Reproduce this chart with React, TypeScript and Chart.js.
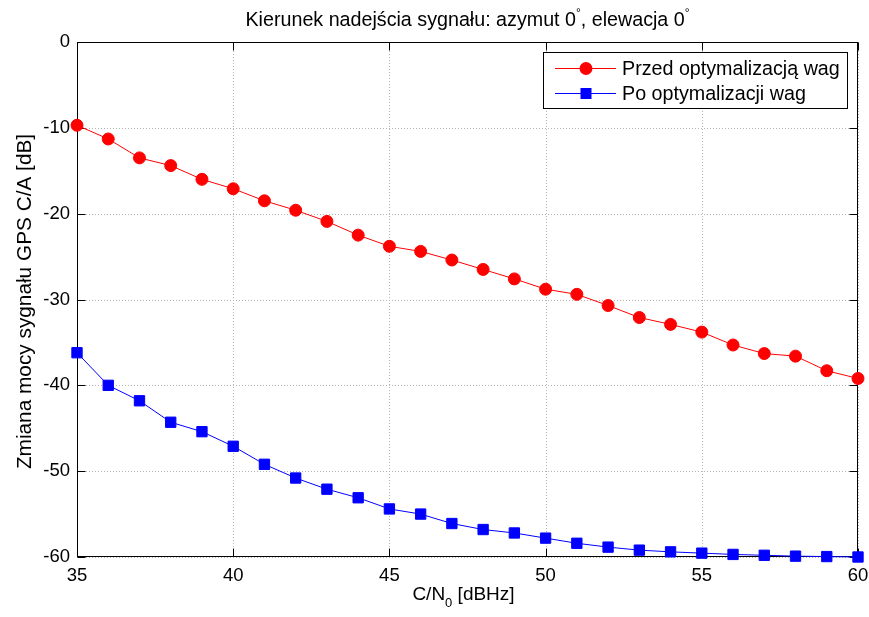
import React, { useEffect, useRef } from "react";
import { Chart, registerables } from "chart.js";

Chart.register(...registerables);

const cn0 = [35, 36, 37, 38, 39, 40, 41, 42, 43, 44, 45, 46, 47, 48, 49, 50, 51, 52, 53, 54, 55, 56, 57, 58, 59, 60];
const beforeOpt = [-9.7, -11.3, -13.5, -14.4, -16.0, -17.1, -18.5, -19.6, -20.9, -22.5, -23.8, -24.4, -25.4, -26.5, -27.6, -28.8, -29.4, -30.7, -32.1, -32.9, -33.8, -35.3, -36.3, -36.6, -38.3, -39.2];
const afterOpt = [-36.2, -40.0, -41.8, -44.3, -45.4, -47.1, -49.2, -50.8, -52.1, -53.1, -54.4, -55.0, -56.1, -56.8, -57.2, -57.8, -58.4, -58.85, -59.2, -59.4, -59.55, -59.7, -59.8, -59.9, -59.95, -60.0];
const xTicks = [35, 40, 45, 50, 55, 60];
const yTicks = [0, -10, -20, -30, -40, -50, -60];
const seriesLabels = ["Przed optymalizacją wag", "Po optymalizacji wag"];
const titleMain1 = "Kierunek nadejścia sygnału: azymut 0";
const titleMain2 = ", elewacja 0";
const yLabel = "Zmiana mocy sygnału GPS C/A [dB]";
const xLabelA = "C/N";
const xLabelSub = "0";
const xLabelB = " [dBHz]";

const FONT = "'Liberation Sans', Arial, sans-serif";
const TXT = 19.7;
const YLAB = 20.8;
const XLAB = 19;
const TICK = 18.5;

const matlabPlugin = {
  id: "matlab",
  beforeDatasetsDraw(chart: any) {
    const { ctx, chartArea: a, scales } = chart;
    const x = scales.x;
    const y = scales.y;
    ctx.save();
    ctx.strokeStyle = "#b4b4b4";
    ctx.lineWidth = 1;
    ctx.setLineDash([1, 2]);
    xTicks.forEach((v) => {
      const px = Math.round(x.getPixelForValue(v)) + 0.5;
      ctx.beginPath();
      ctx.moveTo(px, a.top);
      ctx.lineTo(px, a.bottom);
      ctx.stroke();
    });
    yTicks.forEach((v) => {
      const py = Math.round(y.getPixelForValue(v)) + 0.5;
      ctx.beginPath();
      ctx.moveTo(a.left, py);
      ctx.lineTo(a.right, py);
      ctx.stroke();
    });
    ctx.setLineDash([]);
    ctx.strokeStyle = "#000";
    const L = Math.round(a.left) + 0.5;
    const R = Math.round(a.right) - 0.5;
    const T = Math.round(a.top) + 0.5;
    const B = Math.round(a.bottom) - 0.5;
    ctx.strokeRect(L, T, R - L, B - T);
    const tl = 8;
    ctx.beginPath();
    xTicks.forEach((v) => {
      const px = Math.round(x.getPixelForValue(v)) + 0.5;
      ctx.moveTo(px, B);
      ctx.lineTo(px, B - tl);
      ctx.moveTo(px, T);
      ctx.lineTo(px, T + tl);
    });
    yTicks.forEach((v) => {
      const py = Math.round(y.getPixelForValue(v)) + 0.5;
      ctx.moveTo(L, py);
      ctx.lineTo(L + tl, py);
      ctx.moveTo(R, py);
      ctx.lineTo(R - tl, py);
    });
    ctx.stroke();
    ctx.restore();
  },
  afterDraw(chart: any) {
    const { ctx, chartArea: a } = chart;
    ctx.save();
    ctx.fillStyle = "#000";
    ctx.textBaseline = "alphabetic";
    ctx.textAlign = "left";
    const mainFont = `${TXT}px ${FONT}`;
    const degFont = `12px ${FONT}`;
    ctx.font = mainFont;
    const w1 = ctx.measureText(titleMain1).width;
    const w2 = ctx.measureText(titleMain2).width;
    ctx.font = degFont;
    const wd = ctx.measureText("°").width;
    const total = w1 + wd + w2 + wd;
    const cx = (a.left + a.right) / 2;
    let tx = cx - total / 2;
    const tb = 26;
    ctx.font = mainFont;
    ctx.fillText(titleMain1, tx, tb);
    tx += w1;
    ctx.font = degFont;
    ctx.fillText("°", tx, tb - 9);
    tx += wd;
    ctx.font = mainFont;
    ctx.fillText(titleMain2, tx, tb);
    tx += w2;
    ctx.font = degFont;
    ctx.fillText("°", tx, tb - 9);

    // x label
    const xFont = `${XLAB}px ${FONT}`;
    ctx.font = xFont;
    const wa = ctx.measureText(xLabelA).width;
    const wb = ctx.measureText(xLabelB).width;
    ctx.font = `13px ${FONT}`;
    const ws = ctx.measureText(xLabelSub).width;
    const xt = wa + ws + wb;
    let lx = cx - 4 - xt / 2;
    const lb = 600;
    ctx.font = xFont;
    ctx.fillText(xLabelA, lx, lb);
    lx += wa;
    ctx.font = `13px ${FONT}`;
    ctx.fillText(xLabelSub, lx, lb + 7);
    lx += ws;
    ctx.font = xFont;
    ctx.fillText(xLabelB, lx, lb);

    // y label
    ctx.save();
    ctx.translate(31, 301.5);
    ctx.rotate(-Math.PI / 2);
    ctx.textAlign = "center";
    ctx.font = `${YLAB}px ${FONT}`;
    ctx.fillText(yLabel, 0, 0);
    ctx.restore();

    // legend
    const lgL = 543.5, lgT = 52.5, lgR = 847.5, lgB = 108.5;
    ctx.fillStyle = "#fff";
    ctx.fillRect(lgL, lgT, lgR - lgL, lgB - lgT);
    ctx.strokeStyle = "#000";
    ctx.lineWidth = 1;
    ctx.strokeRect(lgL, lgT, lgR - lgL, lgB - lgT);
    const rows = [68, 93];
    chart.data.datasets.forEach((ds: any, i: number) => {
      const ry = rows[i] + 0.5;
      ctx.strokeStyle = ds.borderColor;
      ctx.beginPath();
      ctx.moveTo(555, ry);
      ctx.lineTo(616, ry);
      ctx.stroke();
      ctx.fillStyle = ds.pointBackgroundColor;
      if (ds.pointStyle === "circle") {
        ctx.beginPath();
        ctx.arc(586, ry, 6.5, 0, Math.PI * 2);
        ctx.fill();
      } else {
        ctx.fillRect(586 - 5.5, ry - 5.5, 11, 11);
      }
      ctx.fillStyle = "#000";
      ctx.font = mainFont;
      ctx.textAlign = "left";
      ctx.textBaseline = "middle";
      ctx.fillText(ds.label, 622, ry + 1);
    });
    ctx.restore();
  },
};

export default function App() {
  const ref = useRef<HTMLCanvasElement | null>(null);
  useEffect(() => {
    document.body.style.margin = "0";
    const canvas = ref.current;
    if (!canvas) return;
    const chart = new Chart(canvas, {
      type: "line",
      data: {
        datasets: [
          {
            label: seriesLabels[0],
            data: cn0.map((c, i) => ({ x: c, y: beforeOpt[i] })),
            borderColor: "#ff0000",
            backgroundColor: "#ff0000",
            pointBackgroundColor: "#ff0000",
            pointBorderColor: "#ff0000",
            pointStyle: "circle",
            pointRadius: 6,
            pointBorderWidth: 1,
            borderWidth: 1,
            clip: false as any,
          },
          {
            label: seriesLabels[1],
            data: cn0.map((c, i) => ({ x: c, y: afterOpt[i] })),
            borderColor: "#0000ff",
            backgroundColor: "#0000ff",
            pointBackgroundColor: "#0000ff",
            pointBorderColor: "#0000ff",
            pointStyle: "rect",
            pointRadius: 7.3,
            pointBorderWidth: 1,
            borderWidth: 1,
            clip: false as any,
          },
        ],
      },
      options: {
        responsive: false,
        animation: false,
        layout: { padding: { top: 42, right: 11, left: 0, bottom: 0 } },
        plugins: {
          legend: { display: false },
          title: { display: false },
          tooltip: { enabled: false },
        },
        scales: {
          x: {
            type: "linear",
            min: 35,
            max: 60,
            grid: { display: false, drawTicks: false },
            border: { display: false },
            afterFit: (s: any) => {
              s.height = 60;
              s.paddingLeft = 0;
              s.paddingRight = 0;
            },
            afterBuildTicks: (s: any) => {
              s.ticks = xTicks.map((v) => ({ value: v }));
            },
            ticks: {
              maxRotation: 0,
              padding: 8,
              color: "#000",
              font: { family: FONT, size: TICK },
            },
          },
          y: {
            type: "linear",
            min: -60,
            max: 0,
            grid: { display: false, drawTicks: false },
            border: { display: false },
            afterFit: (s: any) => {
              s.width = 77;
              s.paddingTop = 0;
              s.paddingBottom = 0;
            },
            afterBuildTicks: (s: any) => {
              s.ticks = yTicks.map((v) => ({ value: v }));
            },
            ticks: {
              padding: 7,
              color: "#000",
              font: { family: FONT, size: TICK },
            },
          },
        },
      },
      plugins: [matlabPlugin],
    });
    return () => chart.destroy();
  }, []);
  return (
    <div style={{ position: "absolute", left: 0, top: 0, width: 869, height: 617, background: "#fff" }}>
      <canvas ref={ref} width={869} height={617} style={{ width: 869, height: 617, display: "block" }} />
    </div>
  );
}
